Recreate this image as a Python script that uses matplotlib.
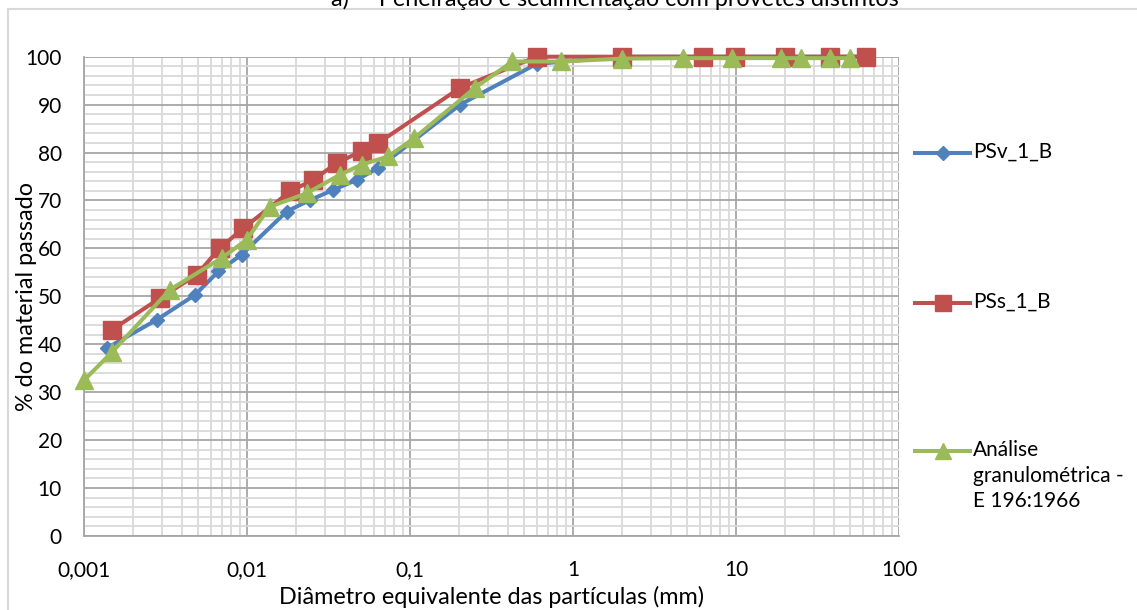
import matplotlib
matplotlib.use("Agg")
import matplotlib.pyplot as plt
from matplotlib.lines import Line2D
from matplotlib.patches import Rectangle
from matplotlib.ticker import FixedLocator, LogLocator, MultipleLocator, NullFormatter

plt.rcParams['font.family'] = ['Lato', 'DejaVu Sans']

# ---- data ----
psv_x = [0.00138, 0.00279, 0.0048, 0.00667, 0.00927, 0.0175, 0.0244, 0.0338, 0.0471, 0.0638,
         0.203, 0.598, 2.0, 6.3, 9.5, 20, 37.5, 63]
psv_y = [39.2, 45.1, 50.3, 55.2, 58.7, 67.7, 70.1, 72.2, 74.3, 76.8,
         90.0, 98.5, 100, 100, 100, 100, 100, 100]

pss_x = [0.00148, 0.00292, 0.00491, 0.00682, 0.00948, 0.0184, 0.0255, 0.0355, 0.0505, 0.0638,
         0.203, 0.598, 2.0, 6.3, 9.8, 20, 37.5, 63]
pss_y = [43.0, 49.6, 54.5, 60.1, 64.2, 71.9, 74.3, 77.8, 80.3, 82.0,
         93.5, 100, 100, 100, 100, 100, 100, 100]

ana_x = [0.001, 0.00148, 0.00337, 0.0070, 0.00995, 0.0138, 0.0232, 0.0373, 0.0506, 0.0736,
         0.106, 0.25, 0.425, 0.85, 2.0, 4.75, 9.5, 19, 25, 37.5, 50]
ana_y = [32.5, 38.3, 51.4, 58.0, 61.8, 68.7, 71.5, 75.4, 77.5, 79.2,
         83.0, 93.5, 99.0, 99.0, 99.6, 99.7, 99.7, 99.7, 99.7, 99.7, 99.7]

series_labels = ['PSv_1_B', 'PSs_1_B', 'Análise\ngranulométrica -\nE 196:1966']
xtick_values = [0.001, 0.01, 0.1, 1, 10, 100]
xtick_labels = ['0,001', '0,01', '0,1', '1', '10', '100']
ytick_values = list(range(0, 101, 10))

title = 'a)     Peneiração e sedimentação com provetes distintos'
xlabel = 'Diâmetro equivalente das partículas (mm)'
ylabel = '% do material passado'

# ---- style ----
W, H = 1137, 610
c_blue, c_red, c_green = '#4F81BD', '#C0504D', '#9BBB59'
styles = [
    dict(color=c_blue, marker='D', ms=7.5),
    dict(color=c_red, marker='s', ms=13),
    dict(color=c_green, marker='^', ms=13),
]

fig = plt.figure(figsize=(W / 100, H / 100), dpi=100)
ax = fig.add_axes([84 / W, 1 - 536 / H, (899 - 84) / W, (536 - 56.7) / H])

ax.set_xscale('log')
ax.set_xlim(0.001, 100)
ax.set_ylim(0, 100)

ax.xaxis.set_major_locator(FixedLocator(xtick_values))
ax.set_xticklabels(xtick_labels)
ax.xaxis.set_minor_locator(LogLocator(base=10, subs=range(2, 10), numticks=50))
ax.xaxis.set_minor_formatter(NullFormatter())
ax.yaxis.set_major_locator(FixedLocator(ytick_values))
ax.yaxis.set_minor_locator(MultipleLocator(2))

ax.grid(which='major', color='#A6A6A6', lw=1.3)
ax.grid(which='minor', color='#D9D9D9', lw=1.3)
ax.set_axisbelow(True)
for s in ['top', 'right']:
    ax.spines[s].set_visible(False)
for s in ['left', 'bottom']:
    ax.spines[s].set_color('#A6A6A6')
    ax.spines[s].set_linewidth(1.3)

ax.tick_params(which='both', length=0)
ax.tick_params(axis='y', pad=16, labelsize=15, colors='black')
ax.tick_params(axis='x', pad=17, labelsize=15, colors='black')

data = [(psv_x, psv_y), (pss_x, pss_y), (ana_x, ana_y)]
for (xs, ys), st, lab in zip(data, styles, series_labels):
    ax.plot(xs, ys, color=st['color'], lw=2.9, marker=st['marker'], ms=st['ms'],
            markeredgecolor=st['color'], label=lab, clip_on=False, zorder=3)

ax.set_xlabel(xlabel, fontsize=16.8)
ax.set_ylabel(ylabel, fontsize=16.8)
ax.xaxis.set_label_coords(0.5, -(586 - 536) / (536 - 56.7))
ax.yaxis.set_label_coords(-(84 - 37) / 815, 0.5)

# legend (manual, handle aligned with first text line)
leg_y = [153, 303, 451]
for st, lab, yy in zip(styles, series_labels, leg_y):
    fy = 1 - yy / H
    fig.add_artist(Line2D([915 / W, 970 / W], [fy, fy], color=st['color'], lw=2.9,
                          transform=fig.transFigure))
    fig.add_artist(Line2D([942.5 / W], [fy], color=st['color'], marker=st['marker'],
                          ms=st['ms'] * (0.9 if st['marker'] != 'D' else 1.0),
                          transform=fig.transFigure))
    fig.text(973 / W, fy + 11 / H, lab, fontsize=15, va='top', ha='left',
             linespacing=1.35, transform=fig.transFigure)

# chart border (light grey, runs off the image at right/bottom)
fig.add_artist(Rectangle((8 / W, -0.1), 1.2, 1 - 9 / H + 0.1, transform=fig.transFigure,
                         fill=False, edgecolor='#D9D9D9', lw=1.5))

# title partly cut off at the top (as in the reference)
fig.text(615 / W, 1 - 6 / H, title, fontsize=16.8, ha='center', va='baseline')

fig.savefig('out.png', dpi=100)
